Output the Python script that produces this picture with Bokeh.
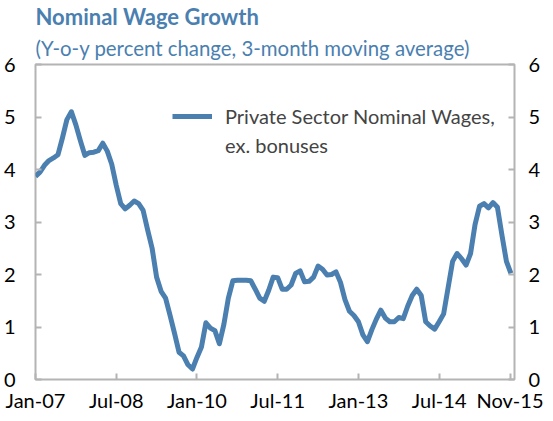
from bokeh.plotting import figure
from bokeh.models import Range1d, LinearAxis, FixedTicker, Title, Legend, LegendItem
from bokeh.embed import file_html
from bokeh.resources import INLINE

# Monthly, Jan-07 .. Nov-15 (index 0..106)
wages = [
    3.87, 3.95, 4.08, 4.17, 4.22, 4.28, 4.60, 4.95, 5.10, 4.85,
    4.55, 4.27, 4.32, 4.33, 4.36, 4.50, 4.35, 4.10, 3.70, 3.35,
    3.25, 3.32, 3.40, 3.35, 3.22, 2.85, 2.50, 1.95, 1.68, 1.55,
    1.22, 0.88, 0.52, 0.45, 0.28, 0.20, 0.42, 0.62, 1.08, 0.98,
    0.93, 0.68, 1.05, 1.55, 1.88, 1.89, 1.89, 1.89, 1.88, 1.72,
    1.55, 1.49, 1.70, 1.95, 1.94, 1.72, 1.72, 1.80, 2.02, 2.07,
    1.86, 1.87, 1.95, 2.16, 2.10, 1.99, 2.00, 2.05, 1.85, 1.52,
    1.30, 1.22, 1.10, 0.85, 0.72, 0.95, 1.15, 1.32, 1.17, 1.10,
    1.10, 1.18, 1.16, 1.40, 1.60, 1.72, 1.60, 1.10, 1.02, 0.96,
    1.10, 1.25, 1.75, 2.25, 2.40, 2.30, 2.18, 2.40, 2.95, 3.30,
    3.35, 3.27, 3.37, 3.28, 2.75, 2.25, 2.02,
]
months = list(range(len(wages)))
tick_positions = [0, 18, 36, 54, 72, 90, 106]
tick_labels = ["Jan-07", "Jul-08", "Jan-10", "Jul-11", "Jan-13", "Jul-14", "Nov-15"]
y_ticks = [0, 1, 2, 3, 4, 5, 6]
legend_lines = ["Private Sector Nominal Wages,", "ex. bonuses"]

FONT = "Lato"
BLUE = "#4a7fb0"
GREY = "#b4b4b4"
FS = "20px"

p = figure(frame_width=479, frame_height=315, output_backend="svg", toolbar_location=None,
           x_range=Range1d(0, 106.8), y_range=Range1d(0, 6),
           min_border_left=33, min_border_right=25, min_border_top=58, min_border_bottom=32)
p.title.visible = False

p.xgrid.visible = False
p.ygrid.visible = False
p.outline_line_color = GREY
p.outline_line_width = 2
p.background_fill_color = "white"
p.border_fill_color = "white"

line = p.line(months, wages, line_color=BLUE, line_width=5, line_join="round")
ghost = p.line([], [], line_alpha=0)

def style_axis(ax):
    ax.axis_line_color = None
    ax.major_tick_in = 6
    ax.major_tick_out = 0
    ax.minor_tick_line_color = None
    ax.major_tick_line_color = GREY
    ax.major_tick_line_width = 2
    ax.major_label_text_font = FONT
    ax.major_label_text_font_size = FS
    ax.major_label_text_color = "black"

p.xaxis.ticker = FixedTicker(ticks=tick_positions)
p.xaxis.major_label_overrides = {t: l for t, l in zip(tick_positions, tick_labels)}
style_axis(p.xaxis[0])
p.xaxis.major_label_standoff = 8

p.yaxis.ticker = FixedTicker(ticks=y_ticks)
style_axis(p.yaxis[0])
p.yaxis.major_label_standoff = 20

right = LinearAxis(ticker=FixedTicker(ticks=y_ticks))
style_axis(right)
right.major_label_standoff = 14
p.add_layout(right, "right")

legend = Legend(items=[LegendItem(label=legend_lines[0], renderers=[line]),
                       LegendItem(label=legend_lines[1], renderers=[ghost])],
                location=(137, 222), border_line_color=None, background_fill_alpha=0,
                label_text_font=FONT, label_text_font_size=FS, glyph_width=40,
                glyph_height=20, label_height=20, spacing=5,
                padding=0, margin=0, label_standoff=13)
p.add_layout(legend)

p.add_layout(Title(text="(Y-o-y percent change, 3-month moving average)", text_font=FONT,
                   text_font_size="20.4px", text_font_style="normal", text_color=BLUE,
                   standoff=9, offset=0), "above")
p.add_layout(Title(text="Nominal Wage Growth", text_font=FONT, text_font_size="22px",
                   text_font_style="bold", text_color=BLUE, standoff=0, offset=0), "above")

open("out.html", "w").write(file_html(p, INLINE))
